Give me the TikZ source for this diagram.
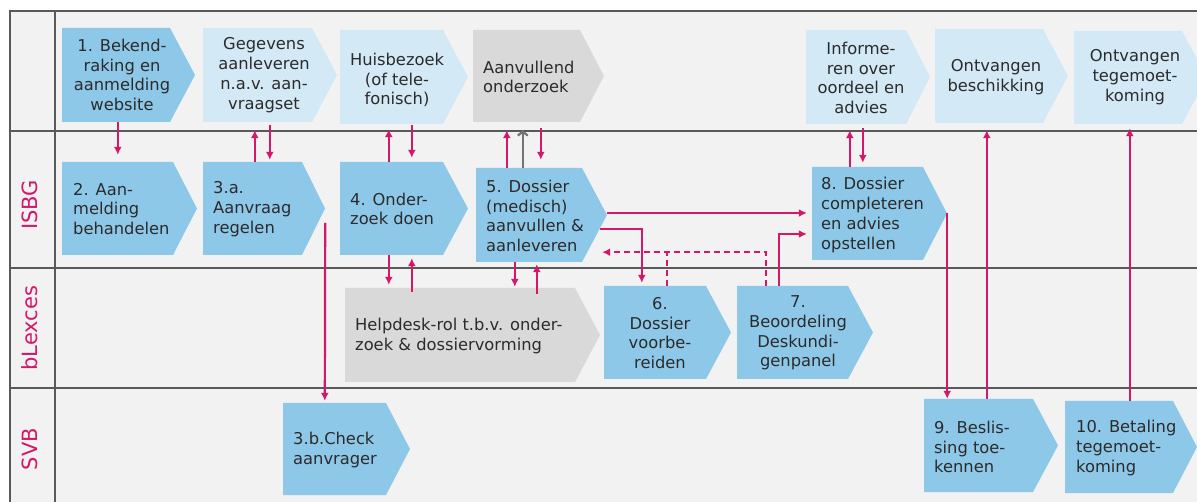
\documentclass[tikz,border=0pt]{standalone}
\usepackage{fontspec}
\setmainfont{DejaVu Sans}
\usetikzlibrary{arrows.meta,fit}
\definecolor{midblue}{HTML}{8EC8E8}
\definecolor{lightblue}{HTML}{D3E9F6}
\definecolor{boxgray}{HTML}{D9D9D9}
\definecolor{bgc}{HTML}{F2F2F2}
\definecolor{mag}{HTML}{D5176A}
\definecolor{gridc}{HTML}{595959}
\definecolor{txtc}{HTML}{2B2B2B}
\newcommand\chevbox[7]{%
  \fill[#7] (#2,#3) -- (#4,#3) -- (#5,{(#3+#6)/2}) -- (#4,#6) -- (#2,#6) -- cycle;
  \node[fit={(#2,#3)(#5,#6)}, inner sep=0pt] (#1) {};
}
\tikzset{
  gridl/.style={draw=gridc, line width=1.8pt},
  mid/.style={fill=midblue},
  light/.style={fill=lightblue},
  grey/.style={fill=boxgray},
  txt/.style={text=txtc, inner sep=0pt, font=\fontsize{16.3}{19.8}\selectfont},
  ctxt/.style={txt, align=center, anchor=center},
  ltxt/.style={txt, align=left, anchor=west},
  lanelab/.style={text=mag, rotate=90, inner sep=0pt, font=\fontsize{21}{24}\selectfont},
  flow/.style={draw=mag, line width=2.2pt, -{Latex[length=8pt,width=8pt]}},
  flowd/.style={draw=mag, line width=2.2pt, dash pattern=on 6pt off 4pt},
  greyflow/.style={draw=gray!90!black, line width=2.2pt, -{Straight Barb[length=4pt,width=10pt]}}
}
\begin{document}
\begin{tikzpicture}[x=1pt,y=-1pt]
\useasboundingbox (0,0) rectangle (1197,502);
\clip (0,0) rectangle (1197,502);
\fill[bgc] (10,11) rectangle (1197,502);
% grid
\draw[gridl] (10,502) -- (10,11) -- (1197,11);
\draw[gridl] (10,131) -- (1197,131);
\draw[gridl] (10,268) -- (1197,268);
\draw[gridl] (10,388) -- (1197,388);
\draw[gridl] (55,11) -- (55,502);
% lane labels
\node[lanelab] (lisbg) at (30,205) {ISBG};
\node[lanelab] (lblex) at (30,328) {bLexces};
\node[lanelab] (lsvb) at (30,449) {SVB};
% top row
\chevbox{b1}{62}{28}{170}{195}{122}{mid}
\chevbox{bg}{203}{28}{312}{337}{122}{light}
\chevbox{bh}{340}{30}{443}{468}{124}{light}
\chevbox{bav}{473}{30}{580}{604}{122}{grey}
\chevbox{binf}{806}{30}{906}{930}{124}{light}
\chevbox{bob}{935}{29}{1043}{1068}{123}{light}
\chevbox{bot}{1074}{31}{1182}{1207}{124}{light}
% ISBG row
\chevbox{b2}{62}{162}{173}{197}{255}{mid}
\chevbox{b3a}{203}{162}{302}{325}{255}{mid}
\chevbox{b4}{340}{162}{443}{468}{255}{mid}
\chevbox{b5}{476}{168}{582}{607}{262}{mid}
\chevbox{b8}{812}{167}{923}{947}{260}{mid}
% bLexces row
\chevbox{bhd}{345}{288}{575}{600}{382}{grey}
\chevbox{b6}{604}{286}{706}{731}{379}{mid}
\chevbox{b7}{737}{286}{848}{873}{379}{mid}
% SVB row
\chevbox{b3b}{283}{403}{386}{410}{495}{mid}
\chevbox{b9}{924}{399}{1033}{1058}{492}{mid}
\chevbox{b10}{1065}{401}{1173}{1197}{493}{mid}
% connectors
\draw[flow] ([xshift=56pt]b1.south west) -- ([xshift=56pt,yshift=7pt]b2.north west);
\draw[flow] ([xshift=52pt]b3a.north west) -- ([xshift=52pt,yshift=-8pt]bg.south west);
\draw[flow] ([xshift=67pt,yshift=-3pt]bg.south west) -- ([xshift=67pt,yshift=2pt]b3a.north west);
\draw[flow] ([yshift=-14.5pt]b3a.east) -- ([xshift=42pt,yshift=2pt]b3b.north west);
\draw[flow] ([xshift=49pt]b4.north west) -- ([xshift=49pt,yshift=-5pt]bh.south west);
\draw[flow] ([xshift=72pt,yshift=-1pt]bh.south west) -- ([xshift=72pt,yshift=4pt]b4.north west);
\draw[flow] ([xshift=49pt]b4.south west) -- ([xshift=44pt,yshift=3pt]bhd.north west);
\draw[flow] ([xshift=67pt,yshift=-4pt]bhd.north west) -- ([xshift=72pt,yshift=-3pt]b4.south west);
\draw[flow] ([xshift=31pt]b5.north west) -- ([xshift=34pt,yshift=-8pt]bav.south west);
\draw[greyflow] ([xshift=47pt]b5.north west) -- ([xshift=50pt,yshift=-8pt]bav.south west);
\draw[flow] ([xshift=68pt,yshift=-6pt]bav.south west) -- ([xshift=65pt,yshift=8pt]b5.north west);
\draw[flow] ([xshift=39pt]b5.south west) -- ([xshift=170pt,yshift=1pt]bhd.north west);
\draw[flow] ([xshift=192pt,yshift=-6pt]bhd.north west) -- ([xshift=61pt,yshift=-2pt]b5.south west);
\draw[flow] ([yshift=2pt]b5.east) -- ([xshift=-5pt,yshift=0.5pt]b8.west);
\draw[flow] ([xshift=-7pt,yshift=-14pt]b5.east) -| ([xshift=38pt,yshift=3pt]b6.north west);
\draw[flowd] ([xshift=29pt]b7.north west) |- ([xshift=63pt,yshift=34pt]b6.north west);
\draw[flowd,-{Latex[length=8pt,width=8pt]}] ([xshift=63pt]b6.north west) |- ([xshift=-5pt,yshift=10pt]b5.south east);
\draw[flow] ([xshift=42pt]b7.north west) |- ([xshift=-5pt,yshift=-20.5pt]b8.west);
\draw[flow] ([xshift=38pt]b8.north west) -- ([xshift=44pt,yshift=-6pt]binf.south west);
\draw[flow] ([xshift=57pt,yshift=-4pt]binf.south west) -- ([xshift=51pt,yshift=4pt]b8.north west);
\draw[flow] (b8.east) -- (b8.east |- b9.north);
\draw[flow] ([xshift=63pt]b9.north west) -- ([xshift=52pt,yshift=-7pt]bob.south west);
\draw[flow] ([xshift=65pt]b10.north west) -- ([xshift=56pt,yshift=-4pt]bot.south west);
% texts
\node[ctxt] (t1) at (122,75) {1. Bekend-\\raking en\\aanmelding\\website};
\node[ctxt] (tg) at (264,75) {Gegevens\\aanleveren\\n.a.v. aan-\\vraagset};
\node[ctxt] (th) at (397,80) {Huisbezoek\\(of tele-\\fonisch)};
\node[ltxt] (tav) at (483,77) {Aanvullend\\onderzoek};
\node[ctxt] (tinf) at (861,78) {Informe-\\ren over\\oordeel en\\advies};
\node[ctxt] (tob) at (996,77) {Ontvangen\\beschikking};
\node[ctxt] (tot) at (1135,77) {Ontvangen\\tegemoet-\\koming};
\node[ltxt] (t2) at (73,209) {2. Aan-\\melding\\behandelen};
\node[ltxt] (t3a) at (213,209) {3.a.\\Aanvraag\\regelen};
\node[ltxt] (t4) at (350,209) {4. Onder-\\zoek doen};
\node[ltxt] (t5) at (486,216) {5. Dossier\\(medisch)\\aanvullen \&\\aanleveren};
\node[ltxt] (t8) at (821,215) {8. Dossier\\completeren\\en advies\\opstellen};
\node[ltxt] (thd) at (355,336) {Helpdesk-rol t.b.v. onder-\\zoek \& dossiervorming};
\node[ctxt] (t6) at (660,333) {6.\\Dossier\\voorbe-\\reiden};
\node[ctxt] (t7) at (798,333) {7.\\Beoordeling\\Deskundi-\\genpanel};
\node[ltxt] (t3b) at (293,450) {3.b.Check\\aanvrager};
\node[ltxt] (t9) at (934,447) {9. Beslis-\\sing toe-\\kennen};
\node[ltxt] (t10) at (1076,448) {10. Betaling\\tegemoet-\\koming};
\end{tikzpicture}
\end{document}
